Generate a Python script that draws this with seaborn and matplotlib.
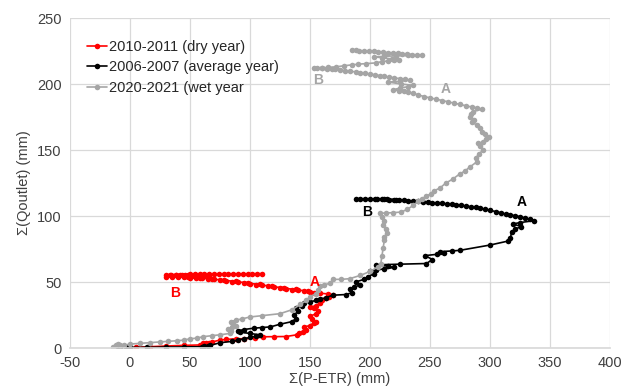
import matplotlib
matplotlib.use("Agg")
import matplotlib.pyplot as plt
import seaborn as sns
import pandas as pd

# Cumulative water balance Σ(P-ETR) vs cumulative outlet discharge Σ(Qoutlet), (x, y) in mm
dry_points = [
    (0, 0), (5, 0.5), (17, 1), (30, 1.5), (45, 2), (58, 2.3), (61, 3.5), (63, 4), (66, 4),
    (68, 4.5), (75, 6), (80, 6.5), (88, 7), (95, 7), (104, 7.5), (111, 8.5), (120, 8.6),
    (130, 8.7), (139, 10), (141, 11), (144, 12), (147, 14), (145, 16), (150, 17), (153, 19),
    (155, 20), (152, 22), (150, 24), (155, 26), (157, 28), (153, 30), (150, 31), (155, 32),
    (158, 34), (160, 36), (163, 38), (166, 39), (169, 40), (165, 41), (158, 41.5), (153, 42),
    (150, 42.5), (145, 43), (148, 43.3), (140, 43.8), (135, 44.2), (138, 44.5), (130, 45),
    (125, 45.5), (128, 45.8), (120, 46.2), (115, 46.7), (118, 47), (110, 47.5), (105, 48),
    (108, 48.3), (100, 48.8), (95, 49.2), (98, 49.5), (90, 50), (85, 50.3), (88, 50.6),
    (80, 51), (75, 51.3), (78, 51.6), (70, 52), (65, 52.3), (68, 52.5), (60, 52.8), (55, 53),
    (58, 53.2), (50, 53.4), (45, 53.6), (48, 53.7), (40, 53.8), (35, 54), (30, 54.1),
    (35, 54.2), (40, 54.3), (45, 54.35), (50, 54.4), (55, 54.45), (60, 54.5), (66, 54.6),
    (62, 54.7), (58, 54.8), (53, 54.9), (48, 55), (43, 55.1), (38, 55.2), (33, 55.3),
    (30, 55.4), (34, 55.5), (38, 55.55), (42, 55.6), (46, 55.65), (50, 55.7), (54, 55.75),
    (58, 55.8), (62, 55.85), (66, 55.9), (70, 55.95), (74, 56), (78, 56), (82, 56.05),
    (86, 56.1), (90, 56.1), (94, 56.15), (98, 56.2), (102, 56.2), (106, 56.25), (110, 56.3),
]

avg_points = [
    (-12, 0), (-8, 0.3), (-3, 0.5), (0, 0.5), (14, 0.5), (30, 0.7), (45, 0.8), (60, 1),
    (62, 1.5), (65, 1.5), (67, 2), (75, 4), (85, 5), (90, 6), (95, 7), (100, 8), (105, 9),
    (108, 10), (100, 11), (92, 12), (90, 13), (95, 14), (103, 15), (110, 15.5), (117, 16),
    (125, 18), (135, 20), (138, 22), (137, 25), (140, 28), (138, 30), (143, 32), (145, 34),
    (150, 35), (155, 36), (158, 37), (163, 38), (169, 40), (180, 40.5), (185, 42), (183, 45),
    (187, 46), (192, 48), (188, 50), (195, 52), (198, 54), (203, 56), (200, 58), (205, 59),
    (212, 60), (220, 61), (215, 62), (205, 63), (225, 63.5), (247, 64), (252, 67), (246, 70),
    (256, 71), (262, 72), (258, 73), (268, 73.5), (275, 74), (300, 78), (315, 81), (317, 83),
    (318, 88), (321, 90), (326, 92), (319, 94), (325, 95), (337, 96.5), (333, 97.5),
    (329, 98.5), (325, 99.5), (321, 100.2), (317, 100.8), (313, 101.5), (309, 102.5),
    (305, 103.3), (300, 104.3), (296, 105), (292, 105.8), (288, 106.5), (284, 107),
    (280, 107.6), (276, 108.1), (272, 108.5), (268, 108.9), (264, 109.2), (260, 109.5),
    (256, 109.8), (252, 110.1), (248, 110.4), (244, 110.7), (240, 111), (236, 111.3),
    (232, 111.6), (228, 111.9), (224, 112.1), (220, 112.2), (216, 112.3), (222, 112.5),
    (214, 112.6), (210, 112.7), (206, 112.8), (212, 112.9), (204, 113), (200, 113),
    (196, 113.1), (192, 113), (188, 112.7),
]

wet_points = [
    (-14, 1), (-12, 2), (-10, 3), (-8, 2.5), (-5, 2), (0, 3), (8, 3.5), (17, 4), (25, 4.5),
    (32, 5), (39, 5.5), (45, 6), (50, 7), (56, 7.5), (61, 8.6), (68, 9.3), (75, 10), (83, 11),
    (84, 13), (82, 14.5), (85, 16), (88, 17), (86, 18), (84, 20), (88, 21), (93, 22),
    (100, 23.5), (110, 24.5), (125, 26), (135, 29), (142, 33), (147, 36), (150, 39), (155, 41),
    (157, 44), (158, 47), (162, 48), (167, 49), (169, 52), (176, 52), (183, 52.5), (192, 55),
    (200, 58), (207, 61.6), (209, 64), (210, 70), (211, 76), (212, 82), (212, 84), (214, 87),
    (213, 90), (211, 93), (212, 96), (210, 99), (208, 102), (213, 102.3), (219, 102.5),
    (226, 103), (231, 105), (236, 108), (240, 111), (243, 113), (247, 115), (251, 117),
    (253, 119), (258, 121), (263, 124.8), (269, 128), (275, 132), (279, 134), (283, 137),
    (289, 141), (288, 144), (291, 147), (294, 150), (292, 153), (290, 155), (294, 156),
    (297, 158), (299, 160), (296, 162), (293, 164), (292, 167), (289, 169), (285, 171),
    (287, 173), (283, 175), (284, 177), (286, 179), (293, 181), (289, 182), (285, 182.5),
    (280, 183.5), (275, 184.5), (270, 185.5), (265, 186.5), (260, 187.5), (255, 188.5),
    (250, 189.5), (245, 190.5), (240, 191.8), (236, 193), (232, 193.8), (228, 194.5),
    (224, 195), (219, 195.5), (225, 197), (232, 198), (236, 199), (226, 200), (215, 201.5),
    (225, 202), (233, 203), (229, 203.5), (225, 204), (220, 204.6), (216, 205.2),
    (212, 205.8), (208, 206.4), (204, 207), (200, 207.5), (196, 208), (192, 208.6),
    (188, 209.2), (183, 209.7), (179, 210.2), (175, 210.6), (171, 211), (168, 211.3),
    (164, 211.6), (160, 211.8), (156, 212), (153, 212.2), (160, 212.3), (165, 212.6),
    (172, 213), (178, 213.8), (185, 214.5), (190, 215), (197, 215.5), (205, 216), (210, 217),
    (215, 217.5), (220, 218), (224, 218.5), (218, 219), (210, 220), (203, 220.5), (212, 221),
    (222, 221.3), (232, 221.6), (243, 221.8), (239, 222), (235, 222.3), (231, 222.6),
    (227, 222.9), (223, 223.2), (219, 223.5), (215, 223.8), (211, 224.1), (207, 224.4),
    (203, 224.7), (199, 224.9), (195, 225.1), (191, 225.3), (188, 225.4), (185, 225.5),
]

series_names = ["2010-2011 (dry year)", "2006-2007 (average year)", "2020-2021 (wet year"]
series_colors = ["#ff0000", "#000000", "#a5a5a5"]

# Turning-point annotations and the series whose colour they take
label_text = ["B", "A", "A", "B", "A", "B"]
label_x = [37.5, 154, 326, 197.5, 263, 157]
label_y = [41.7, 50, 110.6, 103, 196, 203]
label_series = [0, 0, 1, 1, 2, 2]

x_ticks = [-50, 0, 50, 100, 150, 200, 250, 300, 350, 400]
y_ticks = [0, 50, 100, 150, 200, 250]

frames = []
for name, pts in zip(series_names, [dry_points, avg_points, wet_points]):
    part = pd.DataFrame(pts, columns=["x", "y"])
    part["series"] = name
    frames.append(part)
df = pd.concat(frames, ignore_index=True)

sns.set_theme(style="white")
plt.rcParams["font.family"] = ["Liberation Sans", "DejaVu Sans"]
plt.rcParams["axes.unicode_minus"] = False

fig = plt.figure(figsize=(6.24, 3.89), dpi=100)
ax = fig.add_axes([70 / 624, 1 - 348 / 389, 540 / 624, 330 / 389])

sns.lineplot(data=df, x="x", y="y", hue="series", hue_order=series_names,
             palette=series_colors, sort=False, estimator=None, units="series",
             marker="o", markersize=4, markeredgewidth=0, linewidth=1.2,
             ax=ax, legend=True)

for t, lx, ly, si in zip(label_text, label_x, label_y, label_series):
    ax.text(lx, ly, t, color=series_colors[si], fontsize=10, fontweight="bold",
            ha="center", va="center")

ax.set_xlim(-50, 400)
ax.set_ylim(0, 250)
ax.set_xticks(x_ticks)
ax.set_yticks(y_ticks)
ax.grid(True, color="#d9d9d9", linewidth=0.9)
ax.set_axisbelow(True)
for side in ["top", "right", "left"]:
    ax.spines[side].set_visible(False)
ax.spines["bottom"].set_color("#d9d9d9")
ax.tick_params(axis="both", length=0, labelsize=10.5, colors="#404040", pad=6)
ax.set_xlabel("Σ(P-ETR) (mm)", fontsize=10.5, color="#404040", labelpad=1)
ax.set_ylabel("Σ(Qoutlet) (mm)", fontsize=10.5, color="#404040", labelpad=4)

handles, labels = ax.get_legend_handles_labels()
ax.legend(handles, labels, loc="upper left", bbox_to_anchor=(0.02, 0.952),
          frameon=False, fontsize=10.5, handlelength=1.4, handletextpad=0.1,
          labelspacing=0.45, borderaxespad=0)

fig.savefig("out.png", dpi=100)
